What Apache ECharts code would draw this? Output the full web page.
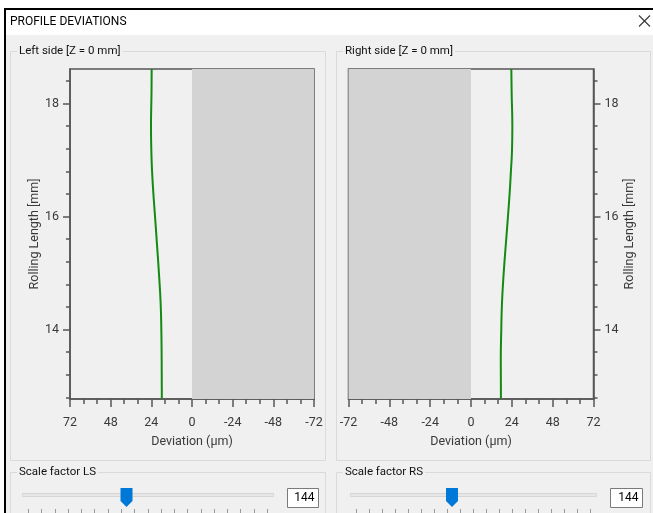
<!DOCTYPE html>
<html>
<head>
<meta charset="utf-8">
<script src="https://cdn.jsdelivr.net/npm/echarts@6/dist/echarts.min.js"></script>
<style>
html,body{margin:0;padding:0;background:#f0f0f0;}
#chart{width:653px;height:513px;}
</style>
</head>
<body>
<div id="chart"></div>
<script>
// ---- data ----
const rollingLength   = [18.61, 18.18, 17.59, 17.17, 16.82, 16.41, 15.99, 15.52, 14.99, 14.46, 14.00, 13.46, 12.78];
const leftDeviation   = [23.8, 23.9, 24.2, 24.0, 23.6, 22.8, 21.8, 20.7, 19.5, 18.5, 18.1, 17.9, 17.8];
const rightDeviation  = [23.7, 23.9, 24.3, 24.1, 23.5, 22.7, 21.7, 20.5, 19.2, 18.2, 17.8, 17.5, 17.6];
const yMajorTicks     = [14, 16, 18];
const yMinorTicks     = [12.8, 13.2, 13.6, 14.4, 14.8, 15.2, 15.6, 16.4, 16.8, 17.2, 17.6, 18.4];
const yRange          = [12.77, 18.61];
const xRange          = [-72, 72];
const xStep           = 24;
const shadedLeft      = [0, -72];
const shadedRight     = [-72, 0];
const titleText       = 'PROFILE DEVIATIONS';
const panelTitles     = ['Left side [Z = 0 mm]', 'Right side [Z = 0 mm]'];
const sliderTitles    = ['Scale factor LS', 'Scale factor RS'];
const sliderValues    = ['144', '144'];
const xName           = 'Deviation (\u03bcm)';
const yName           = 'Rolling Length [mm]';

const FONT = 'Roboto';
const TXT = '#3a3a3a';
const AX = '#555555';
const GREEN = '#138a13';

function pairs(dev) { return dev.map((d, i) => [d, rollingLength[i]]); }

function xAxisCfg(gridIndex, inverse) {
  return {
    type: 'value', gridIndex: gridIndex, min: xRange[0], max: xRange[1], interval: xStep,
    inverse: inverse, position: 'bottom',
    name: xName, nameLocation: 'middle', nameGap: 36,
    nameTextStyle: { color: TXT, fontFamily: FONT, fontSize: 12.5 },
    axisLine: { show: true, onZero: false, lineStyle: { color: AX, width: 1.5 } },
    axisTick: { show: true, length: 8, lineStyle: { color: AX, width: 1.5 } },
    minorTick: { show: true, splitNumber: 3, length: 5, lineStyle: { color: AX, width: 1.5 } },
    axisLabel: { color: TXT, fontFamily: FONT, fontSize: 12.5, margin: 17, showMinLabel: true, showMaxLabel: true },
    splitLine: { show: false }
  };
}
function yAxisMajor(gridIndex, pos) {
  return {
    type: 'value', gridIndex: gridIndex, min: yRange[0], max: yRange[1], position: pos,
    name: yName, nameLocation: 'middle', nameGap: pos === 'left' ? 29 : 30, nameRotate: 90,
    nameTextStyle: { color: TXT, fontFamily: FONT, fontSize: 12.5 },
    axisLine: { show: true, onZero: false, lineStyle: { color: AX, width: 1.5 } },
    axisTick: { show: true, length: 7, customValues: yMajorTicks, lineStyle: { color: AX, width: 1.5 } },
    axisLabel: { color: TXT, fontFamily: FONT, fontSize: 12.5, margin: 11, customValues: yMajorTicks },
    splitLine: { show: false }
  };
}
function yAxisMinor(gridIndex, pos) {
  return {
    type: 'value', gridIndex: gridIndex, min: yRange[0], max: yRange[1], position: pos,
    axisLine: { show: false, onZero: false },
    axisTick: { show: true, length: 4, customValues: yMinorTicks, lineStyle: { color: AX, width: 1.5 } },
    axisLabel: { show: false },
    splitLine: { show: false }
  };
}

// ---- dialog chrome ----
const graphics = [];
graphics.push({ type: 'rect', shape: { x: 0, y: 0, width: 653, height: 35 }, style: { fill: '#ffffff' }, silent: true, z: -10 });
graphics.push({ type: 'rect', shape: { x: 0, y: 0, width: 4, height: 513 }, style: { fill: '#ffffff' }, silent: true, z: -10 });
graphics.push({ type: 'rect', shape: { x: 4, y: 8, width: 649, height: 2 }, style: { fill: '#000000' }, silent: true, z: -5 });
graphics.push({ type: 'rect', shape: { x: 4, y: 8, width: 2, height: 505 }, style: { fill: '#000000' }, silent: true, z: -5 });
graphics.push({ type: 'text', x: 10, y: 22, style: { text: titleText, fill: '#000', font: '12px ' + FONT, verticalAlign: 'middle' }, silent: true });
graphics.push({ type: 'line', shape: { x1: 639, y1: 15.5, x2: 650, y2: 26.5 }, style: { stroke: '#333', lineWidth: 1.1 }, silent: true });
graphics.push({ type: 'line', shape: { x1: 650, y1: 15.5, x2: 639, y2: 26.5 }, style: { stroke: '#333', lineWidth: 1.1 }, silent: true });

const boxes = [
  { x: 10.5, w: 315, title: panelTitles[0], tx: 17, stitle: sliderTitles[0], val: sliderValues[0],
    track: [22, 251], thumb: 126.5, vbox: [287.5, 31], tick: [28, 267] },
  { x: 336.5, w: 314, title: panelTitles[1], tx: 343, stitle: sliderTitles[1], val: sliderValues[1],
    track: [350, 246], thumb: 452, vbox: [610.5, 32], tick: [356, 590] }
];
boxes.forEach(b => {
  graphics.push({ type: 'rect', shape: { x: b.x, y: 51.5, width: b.w, height: 409 }, style: { fill: 'none', stroke: '#dadada', lineWidth: 1 }, silent: true, z: -4 });
  graphics.push({ type: 'text', x: b.tx, y: 51, style: { text: b.title, fill: '#111', font: '11.5px ' + FONT, verticalAlign: 'middle', backgroundColor: '#f0f0f0', padding: [0, 2] }, silent: true, z: -3 });
  graphics.push({ type: 'rect', shape: { x: b.x, y: 472.5, width: b.w, height: 60 }, style: { fill: 'none', stroke: '#dadada', lineWidth: 1 }, silent: true, z: -4 });
  graphics.push({ type: 'text', x: b.tx, y: 472, style: { text: b.stitle, fill: '#111', font: '11.5px ' + FONT, verticalAlign: 'middle', backgroundColor: '#f0f0f0', padding: [0, 2] }, silent: true, z: -3 });
  graphics.push({ type: 'rect', shape: { x: b.track[0] + 0.5, y: 493.5, width: b.track[1], height: 3 }, style: { fill: '#e7e7e7', stroke: '#d6d6d6', lineWidth: 1 }, silent: true });
  const t = b.thumb;
  graphics.push({ type: 'polygon', shape: { points: [[t - 6, 488], [t + 6, 488], [t + 6, 501], [t, 507], [t - 6, 501]] }, style: { fill: '#0078d7' }, silent: true });
  graphics.push({ type: 'rect', shape: { x: b.vbox[0], y: 488.5, width: b.vbox[1], height: 19 }, style: { fill: '#ffffff', stroke: '#7a7a7a', lineWidth: 1 }, silent: true });
  graphics.push({ type: 'text', x: b.vbox[0] + b.vbox[1] - 4, y: 498, style: { text: b.val, fill: '#000', font: '12px ' + FONT, align: 'right', verticalAlign: 'middle' }, silent: true });
  const n = 18;
  for (let i = 0; i <= n; i++) {
    const xx = Math.round(b.tick[0] + (b.tick[1] - b.tick[0]) * i / n) + 0.5;
    graphics.push({ type: 'line', shape: { x1: xx, y1: 509, x2: xx, y2: 513 }, style: { stroke: '#9a9a9a', lineWidth: 1 }, silent: true });
  }
});

const chart = echarts.init(document.getElementById('chart'), null, { renderer: 'canvas' });
chart.setOption({
  animation: false,
  backgroundColor: '#f0f0f0',
  textStyle: { fontFamily: FONT },
  graphic: graphics,
  grid: [
    { left: 70, top: 69, width: 244, height: 330, show: true, borderColor: AX, borderWidth: 1.5, backgroundColor: 'transparent' },
    { left: 348.5, top: 69, width: 245, height: 330, show: true, borderColor: AX, borderWidth: 1.5, backgroundColor: 'transparent' }
  ],
  xAxis: [ xAxisCfg(0, true), xAxisCfg(1, false) ],
  yAxis: [ yAxisMajor(0, 'left'), yAxisMinor(0, 'left'), yAxisMajor(1, 'right'), yAxisMinor(1, 'right') ],
  series: [
    {
      type: 'line', xAxisIndex: 0, yAxisIndex: 0, data: pairs(leftDeviation), smooth: true,
      showSymbol: false, symbol: 'none', lineStyle: { color: GREEN, width: 2 }, itemStyle: { color: GREEN },
      markArea: { silent: true, itemStyle: { color: '#d3d3d3' }, label: { show: false },
        data: [[{ xAxis: shadedLeft[0] }, { xAxis: shadedLeft[1] }]] }
    },
    {
      type: 'line', xAxisIndex: 1, yAxisIndex: 2, data: pairs(rightDeviation), smooth: true,
      showSymbol: false, symbol: 'none', lineStyle: { color: GREEN, width: 2 }, itemStyle: { color: GREEN },
      markArea: { silent: true, itemStyle: { color: '#d3d3d3' }, label: { show: false },
        data: [[{ xAxis: shadedRight[0] }, { xAxis: shadedRight[1] }]] }
    }
  ]
});
</script>
</body>
</html>
